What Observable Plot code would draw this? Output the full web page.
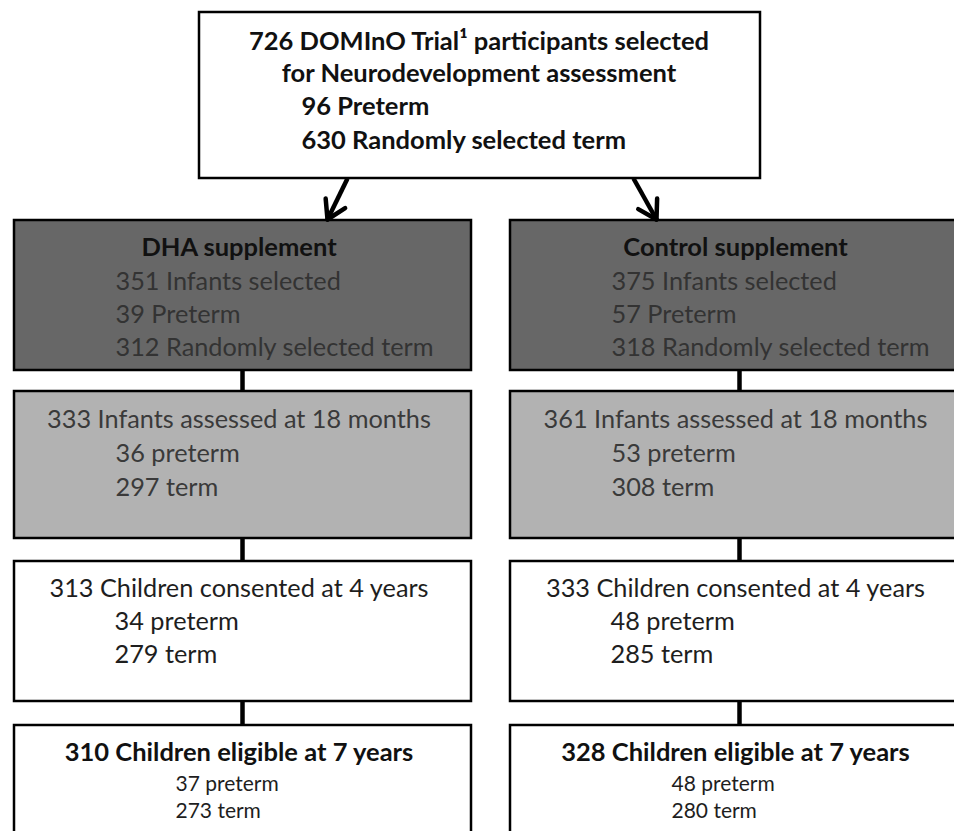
<!DOCTYPE html>
<html>
<head>
<meta charset="utf-8">
<script src="https://cdn.jsdelivr.net/npm/d3@7"></script>
<script src="https://cdn.jsdelivr.net/npm/@observablehq/plot@0.6"></script>
<style>
  html, body { margin: 0; padding: 0; background: #fff; }
  #chart svg { display: block; }
</style>
</head>
<body>
<div id="chart"></div>
<script>
// ---------- data ----------
const topTitle = ["726 DOMInO Trial¹ participants selected", "for Neurodevelopment assessment"];
const topCounts = [96, 630];
const topLabels = ["Preterm", "Randomly selected term"];

const groups = ["DHA supplement", "Control supplement"];
const selectedTotal = [351, 375];
const selectedPreterm = [39, 57];
const selectedTerm = [312, 318];
const assessed18m = [333, 361];
const assessed18mPreterm = [36, 53];
const assessed18mTerm = [297, 308];
const consented4y = [313, 333];
const consented4yPreterm = [34, 48];
const consented4yTerm = [279, 285];
const eligible7y = [310, 328];
const eligible7yPreterm = [37, 48];
const eligible7yTerm = [273, 280];

// ---------- layout (pixels) ----------
const W = 954, H = 831;
const FONT = "Lato, 'Open Sans', sans-serif";
const cols = [{x1: 14, x2: 471}, {x1: 510, x2: 968}];
const rows = [
  {y1: 220, y2: 370, fill: "#676767", ink: "#333"},
  {y1: 391, y2: 538, fill: "#b2b2b2", ink: "#3a3a3a"},
  {y1: 561, y2: 701, fill: "#ffffff", ink: "#1e1e1e"},
  {y1: 725, y2: 845, fill: "#ffffff", ink: "#111"}
];
const topBox = {x1: 199, x2: 760, y1: 12, y2: 178};
const BOLD = 25.5, REG = 25.3, SMALL = 21;

const boxes = [{...topBox, fill: "#fff"}];
rows.forEach(r => cols.forEach(c => boxes.push({x1: c.x1, x2: c.x2, y1: r.y1, y2: r.y2, fill: r.fill})));

const texts = [];
const cx = c => (c.x1 + c.x2) / 2 - 4;
// top box
const topCx = (topBox.x1 + topBox.x2) / 2 - 1;
texts.push({x: topCx, y: 41, t: topTitle[0], a: "middle", w: "bold", s: BOLD, c: "#111"});
texts.push({x: topCx, y: 73, t: topTitle[1], a: "middle", w: "bold", s: BOLD, c: "#111"});
topCounts.forEach((n, i) => texts.push({x: 301, y: 106 + i * 34, t: `${n} ${topLabels[i]}`, a: "start", w: "bold", s: BOLD, c: "#111"}));

cols.forEach((c, g) => {
  const ix = c.x1 + 101;
  const center = cx(c);
  // row 1
  texts.push({x: center, y: 247, t: groups[g], a: "middle", w: "bold", s: BOLD, c: "#111"});
  texts.push({x: ix, y: 281, t: `${selectedTotal[g]} Infants selected`, a: "start", w: "normal", s: REG, c: rows[0].ink});
  texts.push({x: ix, y: 314, t: `${selectedPreterm[g]} Preterm`, a: "start", w: "normal", s: REG, c: rows[0].ink});
  texts.push({x: ix, y: 347, t: `${selectedTerm[g]} Randomly selected term`, a: "start", w: "normal", s: REG, c: rows[0].ink});
  // row 2
  texts.push({x: center, y: 419, t: `${assessed18m[g]} Infants assessed at 18 months`, a: "middle", w: "normal", s: REG, c: rows[1].ink});
  texts.push({x: ix, y: 453, t: `${assessed18mPreterm[g]} preterm`, a: "start", w: "normal", s: REG, c: rows[1].ink});
  texts.push({x: ix, y: 487, t: `${assessed18mTerm[g]} term`, a: "start", w: "normal", s: REG, c: rows[1].ink});
  // row 3
  texts.push({x: center, y: 588, t: `${consented4y[g]} Children consented at 4 years`, a: "middle", w: "normal", s: REG, c: rows[2].ink});
  texts.push({x: ix - 1, y: 621, t: `${consented4yPreterm[g]} preterm`, a: "start", w: "normal", s: REG, c: rows[2].ink});
  texts.push({x: ix - 1, y: 654, t: `${consented4yTerm[g]} term`, a: "start", w: "normal", s: REG, c: rows[2].ink});
  // row 4
  texts.push({x: center, y: 752, t: `${eligible7y[g]} Children eligible at 7 years`, a: "middle", w: "bold", s: BOLD, c: "#111"});
  texts.push({x: c.x1 + 161, y: 784, t: `${eligible7yPreterm[g]} preterm`, a: "start", w: "normal", s: SMALL, c: "#1e1e1e"});
  texts.push({x: c.x1 + 161, y: 811, t: `${eligible7yTerm[g]} term`, a: "start", w: "normal", s: SMALL, c: "#1e1e1e"});
});

// connectors between stacked boxes
const connectorX = [242, 739];
const connectors = [];
connectorX.forEach(x => {
  for (let k = 0; k < rows.length - 1; k++) connectors.push({x, y1: rows[k].y2, y2: rows[k + 1].y1});
});

// arrows from top box to group boxes
const arrows = [
  {x1: 347, y1: topBox.y2, x2: 327, y2: rows[0].y1 - 1},
  {x1: 633, y1: topBox.y2, x2: 656, y2: rows[0].y1 - 1}
];
const wingLen = 21, wingHalf = 31 * Math.PI / 180;
const wings = [];
arrows.forEach(a => {
  const ang = Math.atan2(a.y1 - a.y2, a.x1 - a.x2);
  [-wingHalf, wingHalf].forEach(d => wings.push({
    x1: a.x2, y1: a.y2,
    x2: a.x2 + wingLen * Math.cos(ang + d), y2: a.y2 + wingLen * Math.sin(ang + d)
  }));
});

const textMarks = [];
for (const a of ["start", "middle"]) {
  for (const w of ["bold", "normal"]) {
    const sub = texts.filter(d => d.a === a && d.w === w);
    if (sub.length) textMarks.push(Plot.text(sub, {
      x: "x", y: "y", text: "t", textAnchor: a, fontWeight: w,
      fontSize: d => d.s, fill: "c", lineAnchor: "middle", fontFamily: FONT
    }));
  }
}

const chart = Plot.plot({
  width: W, height: H, margin: 0,
  x: {domain: [0, W], range: [0, W], axis: null},
  y: {domain: [0, H], range: [0, H], axis: null},
  style: {background: "#fff", fontFamily: FONT},
  marks: [
    Plot.rect(boxes, {x1: "x1", x2: "x2", y1: "y1", y2: "y2", fill: "fill", stroke: "#000", strokeWidth: 2.5}),
    Plot.link(connectors, {x1: "x", x2: "x", y1: "y1", y2: "y2", stroke: "#000", strokeWidth: 4.5}),
    Plot.link(arrows, {x1: "x1", y1: "y1", x2: "x2", y2: "y2", stroke: "#000", strokeWidth: 4.5}),
    Plot.link(wings, {x1: "x1", y1: "y1", x2: "x2", y2: "y2", stroke: "#000", strokeWidth: 4.5, strokeLinecap: "round"}),
    ...textMarks
  ]
});
document.getElementById("chart").appendChild(chart);
</script>
</body>
</html>
